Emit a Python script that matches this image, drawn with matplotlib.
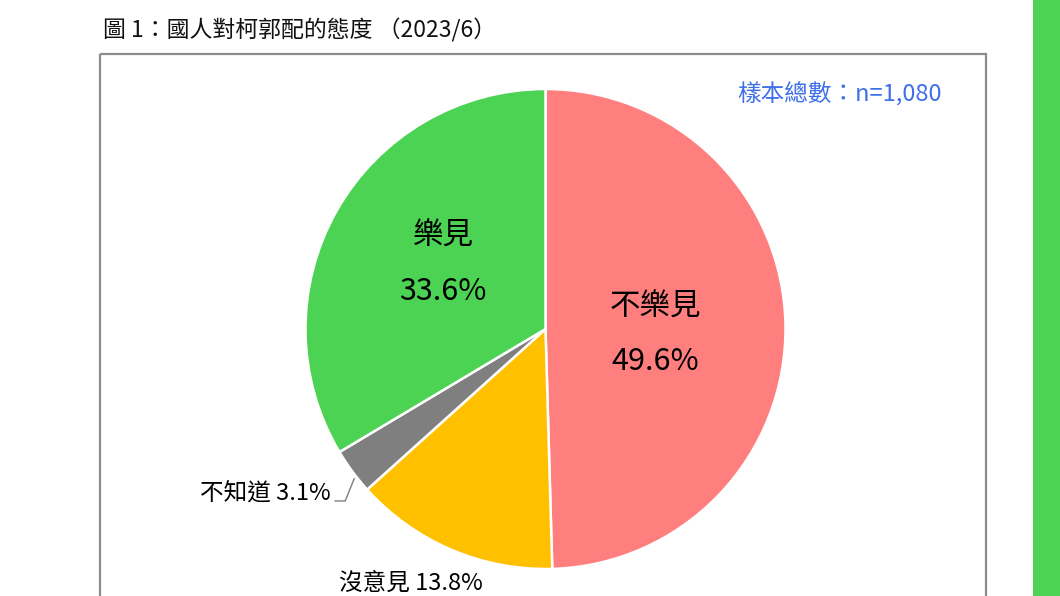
import numpy as np
import matplotlib
matplotlib.use("Agg")
import matplotlib.pyplot as plt
from matplotlib.patches import Rectangle

plt.rcParams['font.family'] = ['Noto Sans CJK TC', 'DejaVu Sans']

# data
categories = ['不樂見', '沒意見', '不知道', '樂見']
percents = [49.6, 13.8, 3.1, 33.6]
colors = ['#FF7F7F', '#FFC000', '#7F7F7F', '#4CD353']
title = '圖 1：國人對柯郭配的態度 （2023/6）'
sample_note = '樣本總數：n=1,080'

W, H = 1060, 596
fig = plt.figure(figsize=(W / 100, H / 100), dpi=100)

# background layer in pixel coords
bg = fig.add_axes([0, 0, 1, 1])
bg.set_xlim(0, W)
bg.set_ylim(H, 0)
bg.axis('off')
bg.add_patch(Rectangle((100, 54), 886, 600, fill=False, edgecolor='#8C8C8C', lw=1.6))
bg.add_patch(Rectangle((1033, -5), 40, H + 10, facecolor='#4CD353', edgecolor='none'))
bg.text(103, 30, title, fontsize=16.5, va='center', ha='left', color='#111111')
bg.text(942, 94, sample_note, fontsize=17, va='center', ha='right', color='#3D6FE8',
        fontweight='medium')

# pie
cx, cy, r = 545.5, 329, 240
ax = fig.add_axes([(cx - r) / W, 1 - (cy + r) / H, 2 * r / W, 2 * r / H])
wedges, _ = ax.pie(percents, colors=colors, startangle=90, counterclock=False,
                   wedgeprops=dict(edgecolor='white', linewidth=1.8))
ax.set_xlim(-1, 1)
ax.set_ylim(-1, 1)
ax.set_aspect('equal')
ax.axis('off')

big = 22
kw = dict(fontsize=big, ha='center', va='center', color='black', fontweight='medium')
ax.text(0.456, 0.09, categories[0], **kw)
ax.text(0.456, -0.135, f'{percents[0]}%', **kw)
ax.text(-0.427, 0.385, categories[3], **kw)
ax.text(-0.427, 0.155, f'{percents[3]}%', **kw)

small = 17
ax.text(-0.56, -1.058, f'{categories[1]} {percents[1]}%', fontsize=small,
        ha='center', va='center', color='black', fontweight='medium')

g = wedges[2]
mid = np.deg2rad((g.theta1 + g.theta2) / 2)
ax.annotate(f'{categories[2]} {percents[2]}%',
            xy=(0.99 * np.cos(mid), 0.99 * np.sin(mid) - 0.035),
            xytext=(-0.895, -0.683), fontsize=small, ha='right', va='center',
            color='black', fontweight='medium',
            arrowprops=dict(arrowstyle='-', color='#7F7F7F', lw=1.0,
                            connectionstyle='angle,angleA=0,angleB=68,rad=0',
                            relpos=(1.0, 0.15), shrinkA=1, shrinkB=0))

fig.savefig('out.png', dpi=100)
